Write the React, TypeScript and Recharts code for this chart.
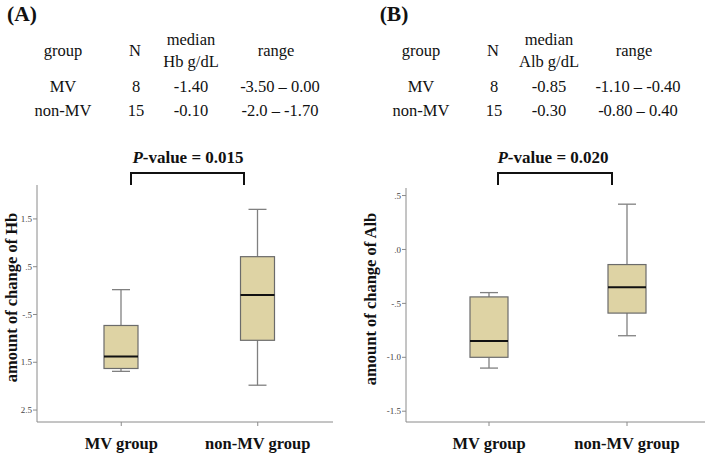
import { Bar, ComposedChart, XAxis, YAxis } from 'recharts'

const groups = ['MV group', 'non-MV group']

// panel A: change of Hb (g/dL)
const hbMin = [-1.69, -1.98]
const hbQ1 = [-1.63, -1.04]
const hbMedian = [-1.38, -0.09]
const hbQ3 = [-0.73, 0.71]
const hbMax = [0.02, 1.7]
const hbTicks = [1.5, 0.5, -0.5, -1.5, -2.5]
const hbTickLabels = ['1.5', '.5', '-.5', '1.5', '2.5']

// panel B: change of Alb (g/dL)
const albMin = [-1.1, -0.8]
const albQ1 = [-1.0, -0.59]
const albMedian = [-0.85, -0.35]
const albQ3 = [-0.44, -0.14]
const albMax = [-0.4, 0.42]
const albTicks = [0.5, 0, -0.5, -1.0, -1.5]
const albTickLabels = ['.5', '.0', '-.5', '-1.0', '-1.5']

const tableGroups = ['MV', 'non-MV']
const tableN = ['8', '15']
const hbTableMedian = ['-1.40', '-0.10']
const hbTableRange = ['-3.50 \u2013 0.00', '-2.0 \u2013 -1.70']
const albTableMedian = ['-0.85', '-0.30']
const albTableRange = ['-1.10 \u2013 -0.40', '-0.80 \u2013 0.40']

const serif = '"Liberation Serif", "Times New Roman", serif'
const boxFill = '#ded3a4'

const makeData = (mn: number[], q1: number[], md: number[], q3: number[], mx: number[]) =>
  groups.map((group, i) => ({ group, min: mn[i], q1: q1[i], median: md[i], q3: q3[i], max: mx[i] }))

const hbData = makeData(hbMin, hbQ1, hbMedian, hbQ3, hbMax)
const albData = makeData(albMin, albQ1, albMedian, albQ3, albMax)

const BoxShape = (props: any) => {
  const { x, y, width, height, payload } = props
  const top = Math.min(y, y + height)
  const bottom = Math.max(y, y + height)
  const span = payload.max - payload.min || 1
  const py = (v: number) => top + ((payload.max - v) / span) * (bottom - top)
  const cx = x + width / 2
  const cap = 9
  return (
    <g>
      <line x1={cx} x2={cx} y1={py(payload.max)} y2={py(payload.q3)} stroke='#808080' strokeWidth={1.3} />
      <line x1={cx} x2={cx} y1={py(payload.q1)} y2={py(payload.min)} stroke='#808080' strokeWidth={1.3} />
      <line x1={cx - cap} x2={cx + cap} y1={py(payload.max)} y2={py(payload.max)} stroke='#808080' strokeWidth={1.3} />
      <line x1={cx - cap} x2={cx + cap} y1={py(payload.min)} y2={py(payload.min)} stroke='#808080' strokeWidth={1.3} />
      <rect
        x={x}
        y={py(payload.q3)}
        width={width}
        height={py(payload.q1) - py(payload.q3)}
        fill={boxFill}
        stroke='#6b6b6b'
        strokeWidth={1.2}
      />
      <line x1={x} x2={x + width} y1={py(payload.median)} y2={py(payload.median)} stroke='#111' strokeWidth={2} />
    </g>
  )
}

const GroupTick = (props: any) => {
  const { x, y, payload } = props
  return (
    <text x={x} y={y + 15} textAnchor='middle' dominantBaseline='central' fontFamily={serif} fontWeight='bold' fontSize={16.5} fill='#111'>
      {payload.value}
    </text>
  )
}

const yLabel = (cx: number) => (p: any) => {
  const vb = p.viewBox || { y: 185, height: 237 }
  const cy = vb.y + vb.height / 2 - 6
  return (
    <text
      x={cx}
      y={cy}
      transform={`rotate(-90 ${cx} ${cy})`}
      textAnchor='middle'
      dominantBaseline='central'
      fontFamily={serif}
      fontWeight='bold'
      fontSize={16.5}
      fill='#111'
    >
      {p.value}
    </text>
  )
}

interface IBoxPanel {
  data: any[]
  width: number
  top: number
  right: number
  yWidth: number
  domain: [number, number]
  ticks: number[]
  tickLabels: string[]
  label: string
  labelX: number
  boxWidth: number
  padLeft: number
  padRight: number
}

const BoxPanel = ({ data, width, top, right, yWidth, domain, ticks, tickLabels, label, labelX, boxWidth, padLeft, padRight }: IBoxPanel) => (
  <ComposedChart width={width} height={457} data={data} margin={{ top, right, bottom: 5, left: 0 }}>
    <XAxis
      dataKey='group'
      height={30}
      tickSize={4}
      tick={<GroupTick />}
      stroke='#8a8a8a'
      padding={{ left: padLeft, right: padRight }}
    />
    <YAxis
      type='number'
      width={yWidth}
      domain={domain}
      ticks={ticks}
      tickSize={4}
      tickMargin={1}
      tickFormatter={(v: number) => tickLabels[ticks.indexOf(v)] ?? String(v)}
      tick={{ fontSize: 9, fill: '#444', fontFamily: serif }}
      stroke='#8a8a8a'
      label={{ value: label, content: yLabel(labelX) }}
    />
    <Bar dataKey={(d: any) => [d.min, d.max]} barSize={boxWidth} shape={<BoxShape />} isAnimationActive={false} />
  </ComposedChart>
)

const T = ({ x, y, children, size = 16.5, bold = false, italic = false }: any) => (
  <text x={x} y={y} textAnchor='middle' dominantBaseline='central' fontFamily={serif} fontSize={size} fontWeight={bold ? 'bold' : 'normal'} fontStyle={italic ? 'italic' : 'normal'} fill='#111'>
    {children}
  </text>
)

const Table = ({ dx, unit, medians, ranges }: { dx: number; unit: string; medians: string[]; ranges: string[] }) => (
  <g transform={`translate(${dx},0)`}>
    <T x={63} y={50}>group</T>
    <T x={135} y={50}>N</T>
    <T x={191} y={39}>median</T>
    <T x={191} y={61}>{unit}</T>
    <T x={276} y={50}>range</T>
    {tableGroups.map((g, i) => (
      <g key={g}>
        <T x={63} y={86 + i * 24}>{g}</T>
        <T x={136} y={86 + i * 24}>{tableN[i]}</T>
        <T x={191} y={86 + i * 24}>{medians[i]}</T>
        <T x={280} y={86 + i * 24}>{ranges[i]}</T>
      </g>
    ))}
  </g>
)

const PValue = ({ cx, x1, x2, value }: { cx: number; x1: number; x2: number; value: string }) => (
  <g>
    <text x={cx} y={157} textAnchor='middle' dominantBaseline='central' fontFamily={serif} fontSize={17} fontWeight='bold' fill='#111'>
      <tspan fontStyle='italic'>P</tspan>-value = {value}
    </text>
    <path d={`M${x1},185 L${x1},173 L${x2},173 L${x2},185`} fill='none' stroke='#111' strokeWidth={2} />
  </g>
)

export default function App() {
  return (
    <div style={{ position: 'absolute', left: 0, top: 0, width: 705, height: 457, background: '#fff', overflow: 'hidden' }}>
      <div style={{ position: 'absolute', left: 0, top: 0 }}>
        <BoxPanel
          data={hbData}
          width={345}
          top={185}
          right={12}
          yWidth={37}
          domain={[-2.75, 2.21]}
          ticks={hbTicks}
          tickLabels={hbTickLabels}
          label='amount of change of Hb'
          labelX={11}
          boxWidth={34}
          padLeft={16}
          padRight={7}
        />
      </div>
      <div style={{ position: 'absolute', left: 352, top: 0 }}>
        <BoxPanel
          data={albData}
          width={353}
          top={188}
          right={0}
          yWidth={54}
          domain={[-1.6, 0.57]}
          ticks={albTicks}
          tickLabels={albTickLabels}
          label='amount of change of Alb'
          labelX={18}
          boxWidth={38}
          padLeft={14}
          padRight={9}
        />
      </div>
      <svg width={705} height={457} style={{ position: 'absolute', left: 0, top: 0, pointerEvents: 'none' }}>
        <T x={22} y={14} size={21.5} bold>(A)</T>
        <T x={394} y={14} size={21.5} bold>(B)</T>
        <Table dx={0} unit='Hb g/dL' medians={hbTableMedian} ranges={hbTableRange} />
        <Table dx={358} unit='Alb g/dL' medians={albTableMedian} ranges={albTableRange} />
        <PValue cx={188} x1={131} x2={244} value='0.015' />
        <PValue cx={553} x1={498} x2={612} value='0.020' />
      </svg>
    </div>
  )
}
